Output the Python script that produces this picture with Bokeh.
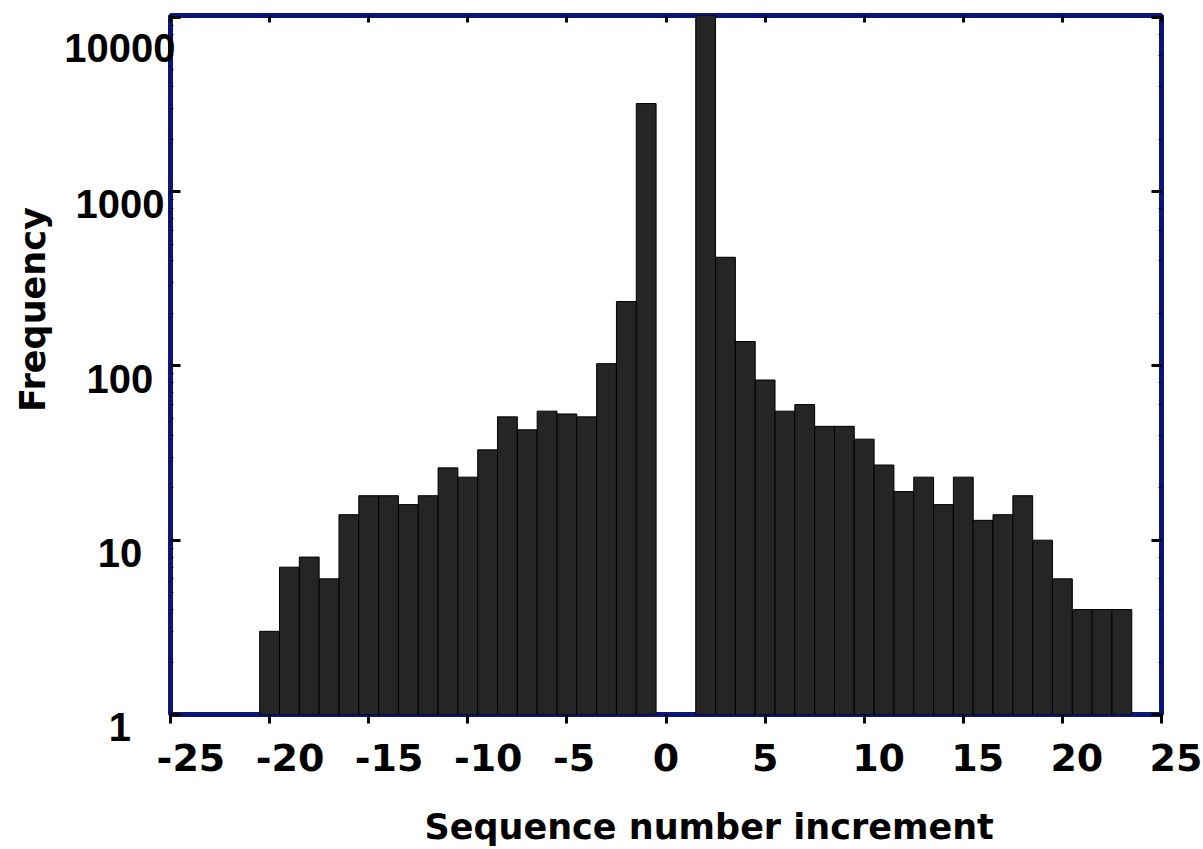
import math
from bokeh.plotting import figure
from bokeh.models import Range1d, LinearAxis, LogAxis, FixedTicker
from bokeh.embed import file_html
from bokeh.resources import INLINE

# ---------------- data ----------------
increments = list(range(-20, 0)) + list(range(2, 24))
frequency = [3, 7, 8, 6, 14, 18, 18, 16, 18, 26, 23, 33, 51, 43, 55, 53, 51, 103, 234, 3200,
             15000, 420, 138, 83, 55, 60, 45, 45, 38, 27, 19, 23, 16, 23, 13, 14, 18, 10, 6, 4, 4, 4]
x_ticks = [-25, -20, -15, -10, -5, 0, 5, 10, 15, 20, 25]
x_tick_labels = ["-25", "-20", "-15", "-10", "-5", "0", "5", "10", "15", "20", "25"]
y_ticks = [1, 10, 100, 1000, 10000]
y_tick_labels = ["1", "10", "100", "1000", "10000"]
x_title = "Sequence number increment"
y_title = "Frequency"
x_limits = (-25, 25)
y_limits = (1, 10240)

# ---------------- style ----------------
W, H = 1203, 849
ML, MR, MT, MB = 170, 42, 15, 135
NAVY = "#0b1577"
BAR = "#252525"
FS = "\u2007"   # figure space (digit wide)
PS = "\u2008"   # punctuation space (period wide)
XFONT, XSIZE = "DejaVu Sans", 38
YFONT, YSIZE = "Liberation Sans", 40
TFONT, TSIZE = "DejaVu Sans", 35


def x_label(s):
    # labels are centred on ticks: a leading blank makes the text start ~11px left of its tick
    digit, hyph, per = 0.696 * XSIZE, 0.411 * XSIZE, 0.380 * XSIZE
    w = sum(hyph if c == "-" else digit for c in s)
    need = w - 22
    best, best_err = "", abs(need)
    for nf in range(3):
        for np_ in range(3):
            err = abs(nf * digit + np_ * per - need)
            if err < best_err:
                best, best_err = FS * nf + PS * np_, err
    return best + s


def y_label(s, width=5):
    # centre the numbers in a five digit field; leading line break drops them a little
    pad = width - len(s)
    side = FS * (pad // 2) + (PS if pad % 2 else "")
    return "\n" + side + s + side


def shifted_title(s, shift_px):
    digit, per = 0.696 * TSIZE, 0.380 * TSIZE
    lead = 2 * shift_px
    nf = int(lead // digit)
    rest = lead - nf * digit
    return FS * nf + (PS if rest > per / 2 else "") + s


p = figure(width=W, height=H, x_range=Range1d(*x_limits), y_range=Range1d(*y_limits),
           y_axis_type="log", output_backend="svg", toolbar_location=None,
           min_border_left=ML, min_border_right=MR, min_border_top=MT,
           min_border_bottom=MB)
p.background_fill_color = "white"
p.border_fill_color = "white"
p.outline_line_color = NAVY
p.outline_line_width = 5
p.xgrid.grid_line_color = None
p.ygrid.grid_line_color = None

p.vbar(x=increments, top=frequency, bottom=y_limits[0], width=1.0,
       fill_color=BAR, line_color="black", line_width=1)


def tick_style(ax, tin, tout, minor_in=0):
    ax.axis_line_color = None
    ax.major_tick_line_color = "black"
    ax.major_tick_line_width = 3
    ax.major_tick_in = tin
    ax.major_tick_out = tout
    if minor_in:
        ax.minor_tick_in = minor_in
        ax.minor_tick_out = 0
        ax.minor_tick_line_color = "black"
        ax.minor_tick_line_width = 1
    else:
        ax.minor_tick_line_color = None


def no_labels(ax):
    ax.major_label_text_color = None
    ax.major_label_text_font_size = "1px"
    ax.major_label_standoff = 0


def title_style(ax, text, standoff):
    ax.axis_label = text
    ax.axis_label_standoff = standoff
    ax.axis_label_text_font = TFONT
    ax.axis_label_text_font_style = "bold"
    ax.axis_label_text_font_size = f"{TSIZE}px"
    ax.axis_label_text_color = "black"


# bottom axis: ticks outside + labels + title
bx = p.xaxis[0]
bx.ticker = FixedTicker(ticks=x_ticks)
tick_style(bx, 0, 9)
bx.major_label_overrides = {t: x_label(s) for t, s in zip(x_ticks, x_tick_labels)}
bx.major_label_standoff = 12
bx.major_label_text_font = XFONT
bx.major_label_text_font_style = "bold"
bx.major_label_text_font_size = f"{XSIZE}px"
bx.major_label_text_color = "black"
title_style(bx, shifted_title(x_title, 42), 24)

# left axis: ticks inside + centred labels + title
ly = p.yaxis[0]
ly.ticker = FixedTicker(ticks=y_ticks,
                        minor_ticks=[m * 10 ** k for k in range(4) for m in range(2, 10)])
tick_style(ly, 10, 0, minor_in=3)
ly.major_label_overrides = {t: y_label(s) for t, s in zip(y_ticks, y_tick_labels)}
ly.major_label_standoff = -5
ly.major_label_text_font = YFONT
ly.major_label_text_font_style = "bold"
ly.major_label_text_font_size = f"{YSIZE}px"
ly.major_label_text_line_height = 0.58
ly.major_label_text_color = "black"
title_style(ly, shifted_title(y_title, 55.5), 8)

# top axis: ticks inside
top = LinearAxis(ticker=FixedTicker(ticks=x_ticks))
tick_style(top, 7, 0)
no_labels(top)
p.add_layout(top, "above")

# right axis: ticks inside
ry = LogAxis()
tick_style(ry, 10, 0, minor_in=3)
no_labels(ry)
p.add_layout(ry, "right")

open("out.html", "w").write(file_html(p, INLINE))
